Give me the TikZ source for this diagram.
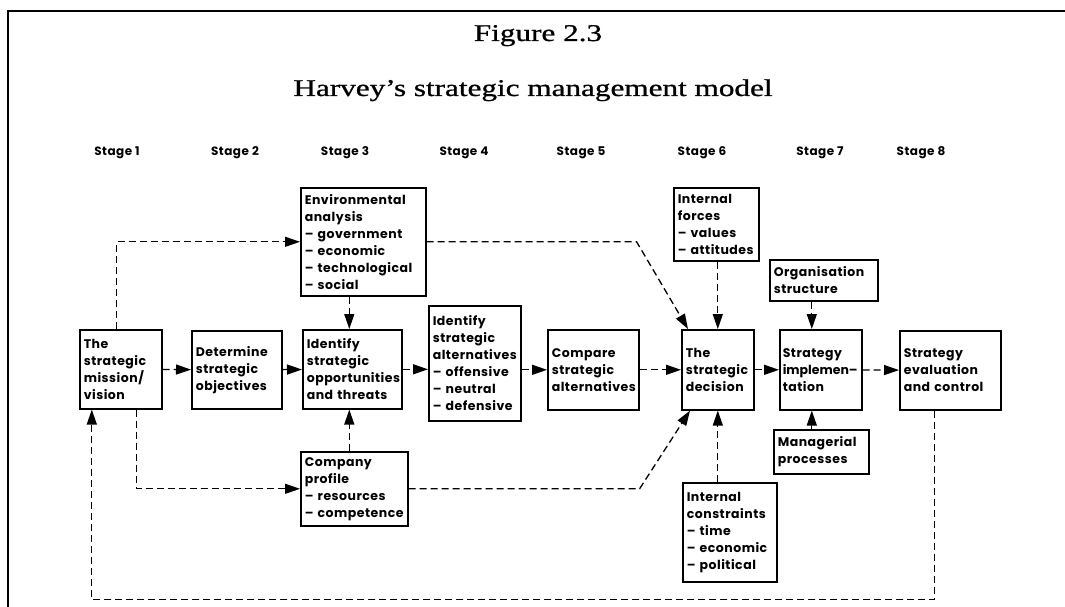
\documentclass[tikz,border=0pt]{standalone}
\usepackage{fontspec}
\usepackage{graphicx}
\setmainfont{Liberation Serif}
\newfontfamily\titlefont{Liberation Serif}[FakeBold=0.8]
\newfontfamily\boxfont{Poppins}[LetterSpace=4]
\usetikzlibrary{arrows.meta}

\begin{document}
\begin{tikzpicture}[x=1pt, y=-1pt,
  box/.style={draw, line width=1.6pt, anchor=north west, align=left,
    inner xsep=4pt, inner ysep=0pt,
    font=\boxfont\bfseries\fontsize{12.5}{17}\selectfont},
  stagelbl/.style={anchor=base, font=\boxfont\bfseries\fontsize{12}{14}\selectfont},
  conn/.style={line width=1.3pt, dash pattern=on 7pt off 4pt,
    -{Triangle[length=15pt,width=10pt]}},
  solidconn/.style={line width=1.3pt, -{Triangle[length=15pt,width=10pt]}}
]
\useasboundingbox (0,0) rectangle (1065,607);

% frame
\draw[line width=2.8pt] (8,607) -- (8,11) -- (1066,11);

% headings
\node[anchor=base] (fig) at (538,41)
  {\scalebox{1.3}[1]{\titlefont\fontsize{24}{28}\selectfont Figure 2.3}};
\node[anchor=base] (ttl) at (533,96)
  {\scalebox{1.3}[1]{\titlefont\fontsize{24}{28}\selectfont Harvey’s strategic management model}};

% stage labels
\node[stagelbl] (s1) at (117,156) {Stage 1};
\node[stagelbl] (s2) at (235,156) {Stage 2};
\node[stagelbl] (s3) at (345,156) {Stage 3};
\node[stagelbl] (s4) at (464,156) {Stage 4};
\node[stagelbl] (s5) at (581,156) {Stage 5};
\node[stagelbl] (s6) at (702,156) {Stage 6};
\node[stagelbl] (s7) at (820,156) {Stage 7};
\node[stagelbl] (s8) at (921,156) {Stage 8};

% boxes
\node[box, text width=74pt, minimum height=79pt] (mission) at (79,329)
  {The\\strategic\\mission/\\vision};
\node[box, text width=82pt, minimum height=78pt] (determine) at (191,330)
  {Determine\\strategic\\objectives};
\node[box, text width=91pt, minimum height=79pt] (identify) at (302,329)
  {Identify\\strategic\\opportunities\\and threats};
\node[box, text width=117pt, minimum height=108pt] (env) at (300,187)
  {Environmental\\analysis\\– government\\– economic\\– technological\\– social};
\node[box, text width=84pt, minimum height=115pt] (alts) at (428,305)
  {Identify\\strategic\\alternatives\\– offensive\\– neutral\\– defensive};
\node[box, text width=83pt, minimum height=80pt] (compare) at (547,329)
  {Compare\\strategic\\alternatives};
\node[box, text width=64pt, minimum height=80pt] (decision) at (681,329)
  {The\\strategic\\decision};
\node[box, text width=77pt, minimum height=73pt] (forces) at (673,187)
  {Internal\\forces\\– values\\– attitudes};
\node[box, text width=100pt, minimum height=41pt] (org) at (769,259)
  {Organisation\\structure};
\node[box, text width=76pt, minimum height=80pt, inner xsep=3pt] (impl) at (779,329)
  {Strategy\\\mbox{\addfontfeature{LetterSpace=0}implemen–}\\tation};
\node[box, text width=93pt, minimum height=79pt] (eval) at (899,330)
  {Strategy\\evaluation\\and control};
\node[box, text width=87pt, minimum height=44pt] (manag) at (773,429)
  {Managerial\\processes};
\node[box, text width=86pt, minimum height=99pt] (constr) at (682,482)
  {Internal\\constraints\\– time\\– economic\\– political};
\node[box, text width=99pt, minimum height=74pt] (company) at (300,451)
  {Company\\profile\\– resources\\– competence};

% main chain
\draw[conn] (mission) -- (determine);
\draw[conn] (determine) -- (identify);
\draw[conn] (identify.east) -- (identify.east -| alts.west);
\draw[conn] (alts.east |- compare.west) -- (compare.west);
\draw[conn] (compare) -- (decision);
\draw[conn] (decision) -- (impl);
\draw[conn] (impl) -- (eval);

% inputs from above
\draw[conn] ([xshift=-4pt]mission.north) |- (env.west);
\draw[conn] ([xshift=-3pt]identify.north |- env.south) -- ([xshift=-3pt]identify.north);
\draw[conn] (env.east) -- ++(210,0) -- ([xshift=7pt]decision.north west);
\draw[conn] (decision.north |- forces.south) -- (decision.north);
\draw[conn] ([xshift=-9pt]impl.north |- org.south) -- ([xshift=-9pt]impl.north);

% inputs from below
\draw[conn] ([xshift=16pt]mission.south) |- (company.west);
\draw[conn] ([xshift=-3pt]identify.south |- company.north) -- ([xshift=-3pt]identify.south);
\draw[conn] (company.east) -- ++(231,0) -- ([xshift=9pt]decision.south west);
\draw[conn] (decision.south |- constr.north) -- (decision.south);
\draw[solidconn] ([xshift=-9pt]impl.south |- manag.north) -- ([xshift=-9pt]impl.south);

% feedback loop
\draw[conn] ([xshift=-16pt]eval.south) -- ++(0,189) -| ([xshift=-29pt]mission.south);
\end{tikzpicture}
\end{document}
